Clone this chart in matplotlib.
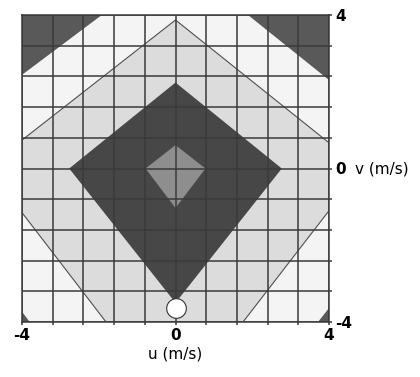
import numpy as np
import matplotlib.pyplot as plt

# contour band outlines (u, v in m/s)
kite_u = [0, 0.78, 0, -0.78]
kite_v = [0.61, 0, -1.03, 0]

dark_u = [0, 2.77, 0, -2.77]
dark_v = [2.24, 0, -3.5, 0]

light_u = [-4, 0, 4, 4, 1.76, -1.81, -4]
light_v = [0.74, 3.87, 0.67, -1.1, -4, -4, -1.15]

# corner triangles (next band up)
corner_tl_u = [-4, -1.92, -4]
corner_tl_v = [4, 4, 2.44]
corner_tr_u = [1.89, 4, 4]
corner_tr_v = [4, 4, 2.31]
corner_bl_u = [-4, -3.8, -4]
corner_bl_v = [-4, -4, -3.73]
corner_br_u = [3.71, 4, 4]
corner_br_v = [-4, -4, -3.63]

marker_u = [0]
marker_v = [-3.64]

grid_ticks = np.linspace(-4, 4, 11)
tick_labels = {-4: "-4", 0: "0", 4: "4"}

fig = plt.figure(figsize=(4.2, 3.77), dpi=100)
ax = fig.add_axes([22/420, 1-322/377, 307/420, 307/377])
ax.set_facecolor("#f4f4f4")

ax.fill(light_u, light_v, color="#dcdcdc", lw=0, zorder=1)
ax.fill(dark_u, dark_v, color="#474747", lw=0, zorder=2)
ax.fill(kite_u, kite_v, color="#8e8e8e", lw=0, zorder=3)
for cu, cv in [(corner_tl_u, corner_tl_v), (corner_tr_u, corner_tr_v),
               (corner_bl_u, corner_bl_v), (corner_br_u, corner_br_v)]:
    ax.fill(cu, cv, color="#595959", lw=0, zorder=2)

# thin line on the light/white boundary
ax.plot(light_u[:3], light_v[:3], color="#505050", lw=0.8, zorder=4)
ax.plot(light_u[3:], light_v[3:], color="#505050", lw=0.8, zorder=4)

for t in grid_ticks:
    ax.axvline(t, color="#3a3a3a", lw=1.1, zorder=5)
    ax.axhline(t, color="#3a3a3a", lw=1.1, zorder=5)

ax.scatter(marker_u, marker_v, s=200, facecolor="white", edgecolor="#333333",
           linewidth=0.8, zorder=6, clip_on=False)

ax.set_xlim(-4, 4)
ax.set_ylim(-4, 4)
for sp in ax.spines.values():
    sp.set_color("#3a3a3a")
    sp.set_linewidth(1.1)

ax.set_xticks(grid_ticks)
ax.set_xticklabels([tick_labels.get(int(round(t)), "") if abs(t - round(t)) < 1e-6 and round(t) in tick_labels else "" for t in grid_ticks])
ax.yaxis.tick_right()
ax.set_yticks(grid_ticks)
ax.set_yticklabels([tick_labels.get(int(round(t)), "") if abs(t - round(t)) < 1e-6 and round(t) in tick_labels else "" for t in grid_ticks])
ax.tick_params(length=2.5, width=1.1, color="#3a3a3a", labelsize=11, pad=2)
for lab in ax.get_xticklabels() + ax.get_yticklabels():
    lab.set_fontweight("bold")

ax.set_xlabel("u (m/s)", fontsize=11, labelpad=2)
ax.text(1.085, 0.5, "v (m/s)", transform=ax.transAxes, fontsize=11,
        va="center", ha="left")

fig.savefig("out.png", dpi=100)
